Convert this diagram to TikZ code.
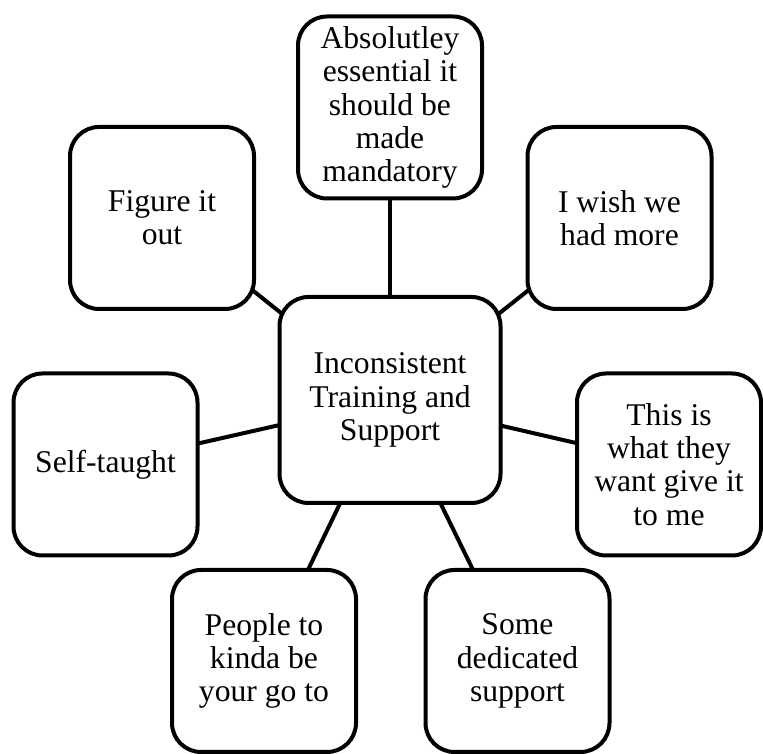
\documentclass[tikz,border=0pt]{standalone}
\usepackage{fontspec}
\setmainfont{Liberation Serif}
\usetikzlibrary{backgrounds}
\begin{document}
\begin{tikzpicture}[
        idea/.style={draw, fill=white, line width=0.08cm, rounded corners=0.58cm,
            minimum width=3.68cm, minimum height=3.64cm, inner sep=0pt, align=center,
            font=\fontsize{18}{19}\selectfont},
        hub/.style={idea, minimum width=4.42cm, minimum height=4.12cm},
        link/.style={line width=0.08cm}]
        \useasboundingbox (0,0) rectangle (15.26,15.08);

        \node [hub] (core) at (7.8,7.08) {Inconsistent\\Training and\\Support};

        \node [idea] (top) at (7.8,12.93) {Absolutley\\essential it\\should be\\made\\mandatory};
        \node [idea] (tl) at (3.24,10.72) {Figure it\\out};
        \node [idea] (tr) at (12.39,10.72) {I wish we\\had more};
        \node [idea] (lft) at (2.11,5.79) {Self-taught};
        \node [idea] (rgt) at (13.38,5.79) {This is\\what they\\want give it\\to me};
        \node [idea] (bl) at (5.28,1.86) {People to\\kinda be\\your go to};
        \node [idea] (br) at (10.35,1.86) {Some\\dedicated\\support};

        \begin{scope}[on background layer]
            \draw [link] (core.center) -- (top.center);
            \draw [link] (core.center) -- (tl.center);
            \draw [link] (core.center) -- (tr.center);
            \draw [link] (core.center) -- (lft.center);
            \draw [link] (core.center) -- (rgt.center);
            \draw [link] (core.center) -- (bl.center);
            \draw [link] (core.center) -- (br.center);
        \end{scope}
\end{tikzpicture}
\end{document}
